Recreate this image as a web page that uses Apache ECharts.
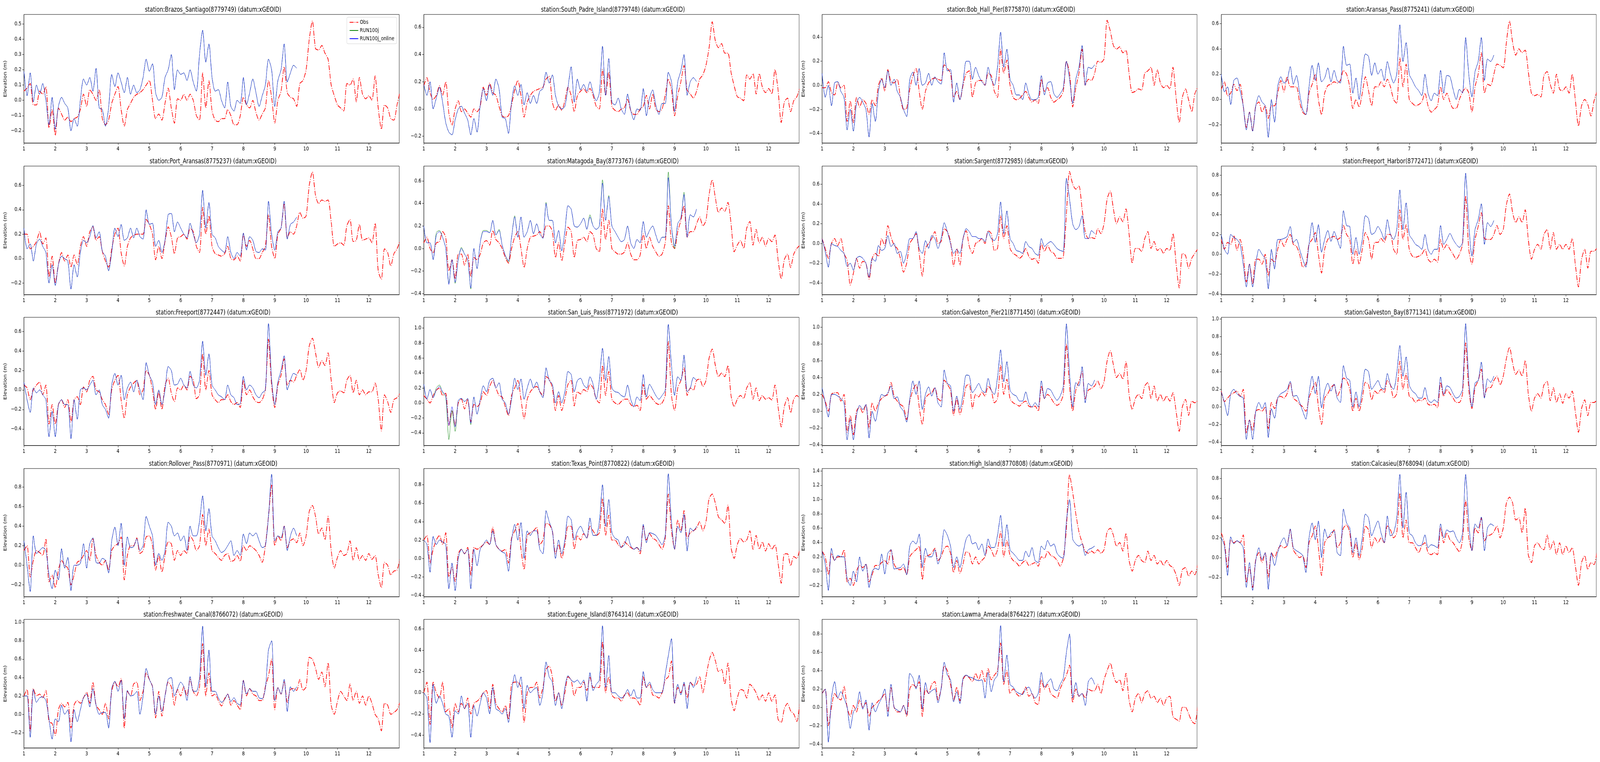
<!DOCTYPE html>
<html>
<head>
<meta charset="utf-8">
<title>Water elevation by station</title>
<script src="https://cdn.jsdelivr.net/npm/echarts@6.0.0/dist/echarts.min.js"></script>
<style>
html, body { margin: 0; padding: 0; background: #ffffff; overflow: hidden; }
#data-chart { width: 5150px; height: 1950px; transform-origin: 0 0; }
</style>
</head>
<body>
<div id="data-chart"></div>
<script>
// Stations (panel order)
var stations = [
	'Brazos_Santiago(8779749)', 'South_Padre_Island(8779748)', 'Bob_Hall_Pier(8775870)', 'Aransas_Pass(8775241)',
	'Port_Aransas(8775237)', 'Matagoda_Bay(8773767)', 'Sargent(8772985)', 'Freeport_Harbor(8772471)',
	'Freeport(8772447)', 'San_Luis_Pass(8771972)', 'Galveston_Pier21(8771450)', 'Galveston_Bay(8771341)',
	'Rollover_Pass(8770971)', 'Texas_Point(8770822)', 'High_Island(8770808)', 'Calcasieu(8768094)',
	'Freshwater_Canal(8766072)', 'Eugene_Island(8764314)', 'Lawma_Amerada(8764227)'
];
var seriesNames = ['Obs', 'RUN100j', 'RUN100j_online'];

// Obs: day 1.0 .. 13.0, every 0.1 day (one row per day)
var obs_brazos = [
	0.06,0.08,0.11,-0.03,-0.03,0.06,0.04,0.09,-0.18,-0.06,
	-0.23,-0.05,-0.09,-0.13,-0.11,-0.14,-0.12,-0.11,-0.06,0.04,
	-0.04,0.07,0.04,0.0,0.07,-0.12,-0.16,-0.13,-0.02,0.04,
	0.09,-0.06,-0.17,-0.06,-0.02,0.02,0.04,0.05,0.07,0.1,
	0.13,0.0,-0.12,-0.09,-0.13,-0.02,0.08,-0.05,-0.15,0.01,
	0.0,0.04,0.0,0.04,0.0,-0.1,-0.13,0.18,-0.05,0.13,
	-0.07,-0.13,-0.14,-0.12,-0.12,-0.06,-0.1,-0.16,-0.16,-0.1,
	0.02,-0.03,-0.05,0.0,-0.08,-0.13,-0.09,-0.05,0.13,0.02,
	-0.15,0.0,0.06,0.22,0.05,0.02,0.01,-0.04,0.11,0.13,
	0.2,0.4,0.52,0.34,0.33,0.36,0.31,0.27,0.1,0.03,
	-0.03,-0.05,-0.07,0.11,0.1,0.14,-0.01,0.15,0.04,0.01,
	0.03,0.0,0.16,-0.05,-0.19,-0.03,-0.05,-0.12,-0.13,-0.03,
	0.06
];
var obs_southPadre = [
	0.17,0.23,0.12,0.07,0.1,0.17,0.1,0.2,-0.03,-0.12,
	0.0,0.06,-0.02,0.0,-0.03,-0.06,0.0,-0.02,0.02,0.16,
	0.1,0.19,0.12,0.1,0.02,-0.05,-0.06,-0.05,0.03,0.14,
	0.21,0.1,-0.06,0.05,0.1,0.13,0.14,0.15,0.16,0.22,
	0.24,0.05,-0.01,0.03,-0.01,0.06,0.16,0.1,-0.02,0.1,
	0.13,0.15,0.12,0.15,0.1,0.02,0.0,0.29,0.1,0.27,
	0.02,-0.01,-0.02,0.0,0.01,0.07,-0.01,-0.04,-0.04,0.0,
	0.02,0.1,0.0,0.11,0.0,-0.02,0.0,0.1,0.22,0.14,
	-0.05,0.1,0.2,0.32,0.14,0.11,0.08,0.13,0.22,0.25,
	0.32,0.45,0.64,0.5,0.45,0.48,0.41,0.41,0.27,0.17,
	0.09,0.08,0.06,0.25,0.22,0.26,0.11,0.26,0.16,0.12,
	0.15,0.11,0.29,0.14,-0.1,0.05,0.08,-0.02,0.06,0.09,
	0.16
];
var obs_bobHall = [
	-0.02,-0.02,0.03,-0.06,-0.08,0.02,-0.02,0.0,-0.3,-0.13,
	-0.31,-0.1,-0.18,-0.12,-0.15,-0.24,-0.12,-0.17,0.0,0.06,
	-0.05,0.13,0.03,0.02,0.05,-0.1,-0.2,-0.19,-0.03,0.08,
	0.14,-0.05,-0.2,-0.05,0.02,0.05,0.06,0.05,0.04,0.17,
	0.14,0.1,-0.1,-0.05,-0.12,0.0,0.1,0.12,-0.1,0.02,
	0.04,0.04,0.0,0.1,0.08,-0.05,-0.1,0.3,0.1,0.21,
	0.0,-0.1,-0.12,-0.11,-0.08,-0.05,-0.1,-0.14,-0.12,-0.15,
	0.05,-0.05,-0.02,-0.1,-0.14,-0.12,-0.1,-0.05,0.2,0.1,
	-0.18,-0.02,0.1,0.3,0.0,0.05,0.04,0.1,0.2,0.19,
	0.22,0.54,0.45,0.33,0.3,0.32,0.27,0.29,0.1,-0.06,
	-0.05,-0.03,-0.04,0.1,0.12,0.15,0.0,0.13,0.02,-0.02,
	0.0,-0.03,0.15,-0.1,-0.31,-0.1,-0.03,-0.12,-0.22,-0.07,
	-0.01
];
var obs_aransasPass = [
	0.08,0.14,0.03,0.05,0.12,0.07,0.12,-0.05,-0.22,-0.1,
	-0.25,-0.05,-0.02,-0.1,-0.05,-0.15,-0.05,-0.05,0.05,0.15,
	0.06,0.18,0.1,0.1,0.1,-0.02,-0.1,-0.12,0.05,0.12,
	0.2,0.0,-0.12,0.05,0.11,0.12,0.14,0.13,0.15,0.23,
	0.2,0.1,-0.07,0.0,-0.06,0.05,0.18,0.07,-0.05,0.1,
	0.1,0.14,0.1,0.16,0.1,0.0,-0.03,0.33,0.1,0.28,
	0.0,-0.03,-0.05,-0.04,-0.02,0.05,-0.05,-0.1,-0.08,-0.05,
	0.1,0.0,0.05,-0.02,-0.07,-0.07,0.0,0.06,0.09,0.05,
	-0.1,0.1,0.2,0.37,0.05,0.12,0.11,0.2,0.28,0.27,
	0.25,0.45,0.62,0.45,0.35,0.4,0.37,0.39,0.22,0.05,
	0.03,0.04,0.02,0.19,0.22,0.12,0.05,0.2,0.08,0.07,
	0.1,0.05,0.2,0.0,-0.21,-0.05,0.0,-0.04,-0.13,-0.01,
	0.07
];
var obs_portAransas = [
	0.2,0.2,0.08,0.1,0.14,0.22,0.12,0.17,-0.15,0.02,
	-0.2,-0.05,0.05,-0.02,0.03,-0.07,0.03,-0.05,0.1,0.18,
	0.1,0.22,0.26,0.15,0.18,0.06,-0.02,-0.07,0.08,0.2,
	0.25,0.05,-0.06,0.1,0.17,0.19,0.2,0.2,0.2,0.32,
	0.28,0.2,-0.01,0.1,0.0,0.14,0.26,0.18,0.04,0.17,
	0.18,0.2,0.16,0.25,0.22,0.1,0.05,0.42,0.2,0.35,
	0.1,0.04,0.03,0.02,0.04,0.1,0.0,-0.01,0.02,-0.02,
	0.2,0.1,0.15,0.08,0.0,0.0,0.05,0.1,0.36,0.1,
	0.0,0.2,0.25,0.45,0.17,0.22,0.2,0.27,0.38,0.33,
	0.35,0.6,0.71,0.52,0.45,0.48,0.47,0.48,0.3,0.1,
	0.12,0.13,0.11,0.27,0.32,0.14,0.15,0.28,0.15,0.16,
	0.17,0.13,0.29,-0.1,-0.17,0.08,0.05,-0.06,0.04,0.08,
	0.15
];
var obs_matagorda = [
	0.05,0.1,0.0,-0.04,0.05,0.06,0.15,0.1,-0.2,-0.1,
	-0.27,-0.05,-0.05,-0.15,-0.05,-0.25,-0.08,-0.1,-0.05,0.05,
	0.07,0.03,0.16,0.08,0.05,0.0,-0.08,-0.13,0.0,0.1,
	0.15,0.0,-0.17,0.0,0.1,0.11,0.12,0.15,0.1,0.2,
	0.2,0.15,-0.08,0.05,-0.11,0.05,0.19,0.15,-0.08,0.07,
	0.08,0.1,0.06,0.15,0.12,0.0,-0.03,0.35,0.08,0.25,
	0.0,-0.03,-0.05,-0.05,-0.03,0.05,-0.05,-0.1,-0.1,-0.06,
	0.13,0.0,0.1,0.02,-0.03,-0.07,-0.05,0.05,0.38,0.05,
	0.0,0.15,0.25,0.38,0.1,0.15,0.15,0.22,0.28,0.2,
	0.25,0.48,0.61,0.45,0.32,0.36,0.33,0.41,0.22,-0.03,
	0.03,0.07,0.0,0.18,0.24,0.03,0.17,0.05,0.1,0.02,
	0.09,0.06,0.12,-0.1,-0.27,-0.1,-0.05,-0.17,-0.05,0.0,
	0.03
];
var obs_sargent = [
	0.05,-0.05,-0.15,0.0,0.05,-0.02,0.05,-0.1,-0.17,-0.42,
	-0.3,-0.15,-0.25,-0.18,-0.2,-0.36,-0.15,-0.1,-0.13,0.05,
	-0.02,0.18,0.07,-0.02,-0.05,-0.15,-0.29,-0.2,0.0,0.05,
	0.1,-0.1,-0.33,-0.05,0.0,0.05,0.12,0.0,0.02,0.15,
	0.12,0.02,-0.23,-0.05,-0.22,0.05,0.13,-0.03,-0.1,0.0,
	0.02,0.05,0.0,0.13,0.1,-0.07,-0.05,0.28,0.05,0.18,
	-0.05,-0.1,-0.12,-0.15,-0.12,-0.05,-0.13,-0.16,-0.15,-0.2,
	0.0,-0.08,-0.02,-0.08,-0.1,-0.15,-0.15,-0.14,0.3,0.73,
	0.6,0.55,0.58,0.35,0.12,0.05,0.06,0.05,0.15,0.1,
	0.2,0.45,0.53,0.35,0.2,0.27,0.22,0.35,0.1,-0.2,
	-0.05,-0.05,-0.08,0.05,0.12,-0.05,0.02,-0.07,-0.05,-0.1,
	-0.05,-0.07,0.1,-0.2,-0.45,-0.1,-0.12,-0.25,-0.15,-0.1,
	-0.05
];
var obs_freeportHarbor = [
	0.15,0.05,0.12,0.1,0.19,0.04,0.15,0.0,-0.28,-0.1,
	-0.3,-0.05,-0.05,-0.1,0.0,-0.22,-0.05,-0.08,0.05,0.15,
	0.08,0.15,0.2,0.1,0.08,0.0,-0.13,-0.1,0.1,0.15,
	0.22,0.0,-0.19,0.05,0.15,0.17,0.18,0.15,0.17,0.29,
	0.2,0.15,-0.1,0.05,-0.1,0.05,0.22,0.15,-0.05,0.12,
	0.12,0.16,0.12,0.2,0.2,0.05,0.0,0.45,0.15,0.3,
	0.05,-0.02,-0.03,-0.02,0.0,0.05,-0.05,-0.08,-0.05,-0.08,
	0.15,0.05,0.1,0.05,0.0,-0.05,0.0,0.1,0.59,0.05,
	-0.1,0.15,0.28,0.42,0.16,0.15,0.15,0.2,0.29,0.2,
	0.25,0.5,0.61,0.42,0.32,0.38,0.32,0.45,0.15,-0.05,
	0.05,0.1,0.05,0.2,0.25,0.05,0.22,0.05,0.1,0.05,
	0.1,0.05,0.16,-0.1,-0.33,-0.05,0.05,-0.14,0.03,0.03,
	0.07
];
var obs_freeport = [
	0.05,0.02,-0.1,0.0,0.05,0.08,-0.05,0.05,-0.35,-0.15,
	-0.35,-0.15,-0.1,-0.18,-0.1,-0.33,-0.1,-0.07,-0.15,0.03,
	-0.02,0.1,0.14,0.0,-0.02,-0.1,-0.15,-0.25,0.0,0.1,
	0.15,-0.1,-0.29,-0.05,0.03,0.07,0.1,-0.05,0.0,0.2,
	0.15,0.0,-0.2,-0.02,-0.2,0.05,0.12,-0.03,-0.12,0.02,
	0.0,0.05,0.0,0.14,0.1,-0.09,-0.05,0.37,0.0,0.2,
	-0.05,-0.1,-0.13,-0.1,-0.1,-0.05,-0.12,-0.15,-0.13,-0.18,
	0.1,-0.05,0.0,-0.07,-0.12,-0.13,-0.1,0.0,0.52,0.05,
	-0.18,0.05,0.15,0.32,0.05,0.1,0.08,0.15,0.21,0.1,
	0.2,0.45,0.53,0.38,0.23,0.3,0.25,0.38,0.1,-0.13,
	-0.03,-0.01,-0.03,0.1,0.15,-0.03,0.1,-0.05,0.0,-0.05,
	-0.02,-0.02,0.07,-0.1,-0.42,-0.05,-0.12,-0.23,-0.1,-0.08,
	-0.03
];
var obs_sanLuis = [
	0.1,0.05,0.0,0.1,0.17,0.2,0.1,0.13,-0.3,-0.1,
	-0.3,0.0,0.05,-0.08,0.05,-0.25,-0.02,-0.05,0.0,0.15,
	0.1,0.22,0.3,0.2,0.1,0.08,-0.05,-0.17,0.1,0.2,
	0.3,0.05,-0.21,0.05,0.15,0.2,0.22,0.15,0.1,0.35,
	0.32,0.2,-0.1,0.1,-0.1,0.05,0.25,0.3,-0.04,0.15,
	0.12,0.18,0.15,0.25,0.2,0.05,0.0,0.5,0.1,0.42,
	0.05,0.0,-0.02,0.02,0.05,0.05,-0.02,-0.05,-0.03,-0.1,
	0.25,0.05,0.1,0.05,0.0,-0.02,0.0,0.1,0.82,0.1,
	-0.1,0.2,0.3,0.47,0.1,0.2,0.17,0.3,0.32,0.22,
	0.3,0.6,0.72,0.5,0.35,0.4,0.35,0.5,0.1,-0.05,
	0.05,0.1,0.06,0.2,0.27,0.05,0.2,0.03,0.1,0.05,
	0.07,0.04,0.24,-0.05,-0.32,-0.05,0.07,-0.13,0.05,0.1,
	0.05
];
var obs_pier21 = [
	0.2,0.12,0.0,0.2,0.22,0.22,0.12,0.2,-0.25,-0.05,
	-0.28,0.0,0.05,-0.02,0.08,-0.2,0.1,0.0,0.1,0.15,
	0.18,0.2,0.34,0.18,0.12,0.08,0.05,-0.1,0.12,0.25,
	0.32,0.05,-0.16,0.15,0.2,0.22,0.28,0.15,0.12,0.37,
	0.32,0.25,-0.05,0.15,-0.04,0.1,0.3,0.32,0.03,0.2,
	0.17,0.23,0.18,0.3,0.25,0.1,0.15,0.55,0.2,0.38,
	0.15,0.1,0.08,0.06,0.1,0.12,0.06,0.05,0.06,0.0,
	0.3,0.15,0.2,0.16,0.1,0.07,0.1,0.2,0.8,0.3,
	0.0,0.25,0.35,0.47,0.15,0.25,0.27,0.3,0.36,0.27,
	0.35,0.6,0.72,0.55,0.4,0.45,0.38,0.59,0.2,0.02,
	0.15,0.2,0.15,0.3,0.34,0.15,0.3,0.12,0.2,0.12,
	0.18,0.12,0.22,0.0,-0.24,0.05,0.14,-0.05,0.12,0.1,
	0.13
];
var obs_galvestonBay = [
	0.18,0.06,0.1,0.14,0.16,0.18,0.12,0.2,-0.3,-0.15,
	-0.27,-0.05,-0.03,-0.05,0.0,-0.25,0.05,-0.02,0.1,0.12,
	0.1,0.15,0.28,0.1,0.07,0.03,0.0,-0.05,0.1,0.2,
	0.28,0.0,-0.2,0.1,0.15,0.22,0.25,0.12,0.2,0.33,
	0.3,0.2,-0.05,0.1,-0.05,0.1,0.28,0.25,0.08,0.18,
	0.15,0.2,0.16,0.3,0.25,0.1,0.15,0.52,0.2,0.38,
	0.12,0.1,0.05,0.08,0.07,0.1,0.03,0.02,0.03,-0.01,
	0.28,0.12,0.2,0.15,0.1,0.05,0.05,0.15,0.73,0.2,
	-0.02,0.22,0.3,0.43,0.12,0.22,0.22,0.3,0.35,0.25,
	0.35,0.55,0.68,0.5,0.37,0.42,0.35,0.53,0.15,-0.05,
	0.1,0.15,0.1,0.25,0.29,0.07,0.22,0.05,0.15,0.04,
	0.15,0.1,0.18,-0.05,-0.29,-0.02,0.08,-0.1,0.05,0.05,
	0.08
];
var obs_rollover = [
	0.15,0.2,-0.12,0.05,0.15,0.13,0.1,0.27,-0.17,-0.1,
	-0.23,-0.05,0.05,0.0,-0.03,-0.2,-0.1,0.03,0.05,0.1,
	0.15,0.05,0.27,0.1,0.03,0.0,0.05,-0.05,0.15,0.2,
	0.22,0.29,-0.15,0.1,0.2,0.2,0.28,0.12,0.15,0.29,
	0.3,0.2,-0.05,0.1,-0.07,0.1,0.24,0.22,0.05,0.15,
	0.1,0.15,0.12,0.3,0.25,0.15,0.2,0.52,0.2,0.37,
	0.15,0.12,0.08,0.05,0.1,0.12,0.04,0.05,0.1,0.04,
	0.2,0.15,0.2,0.18,0.15,0.1,0.03,0.2,0.5,0.82,
	0.2,0.3,0.25,0.4,0.18,0.25,0.27,0.23,0.33,0.2,
	0.3,0.55,0.61,0.5,0.32,0.38,0.26,0.5,0.15,-0.03,
	0.08,0.15,0.1,0.12,0.25,0.05,0.18,0.05,0.1,0.05,
	0.12,0.06,0.1,-0.1,-0.23,0.03,0.0,-0.1,-0.06,-0.05,
	0.08
];
var obs_texasPoint = [
	0.2,0.25,-0.05,0.1,0.2,0.25,0.15,0.28,-0.2,-0.1,
	-0.25,0.05,0.1,0.05,0.12,-0.18,0.12,0.1,0.12,0.15,
	0.18,0.15,0.34,0.15,0.1,0.08,0.1,-0.05,0.22,0.3,
	0.38,0.1,-0.12,0.25,0.28,0.3,0.34,0.15,0.2,0.38,
	0.37,0.3,0.05,0.15,0.0,0.15,0.35,0.35,0.1,0.25,
	0.2,0.27,0.22,0.35,0.3,0.25,0.28,0.65,0.25,0.47,
	0.2,0.2,0.15,0.12,0.18,0.15,0.12,0.1,0.12,0.05,
	0.35,0.2,0.27,0.22,0.2,0.15,0.1,0.22,0.7,0.3,
	0.1,0.42,0.3,0.52,0.22,0.28,0.3,0.33,0.4,0.3,
	0.4,0.65,0.7,0.6,0.45,0.42,0.38,0.58,0.12,0.0,
	0.15,0.22,0.18,0.2,0.3,0.1,0.25,0.1,0.18,0.08,
	0.16,0.1,0.15,-0.05,-0.27,0.05,0.05,-0.08,0.02,0.0,
	0.12
];
var obs_highIsland = [
	0.28,0.2,-0.05,0.25,0.15,0.2,0.2,0.3,-0.15,-0.1,
	-0.2,0.0,0.08,0.05,0.1,-0.15,-0.05,0.08,0.08,0.12,
	0.15,0.1,0.3,0.1,0.03,0.02,0.05,-0.05,0.2,0.26,
	0.3,0.35,-0.12,0.2,0.22,0.25,0.32,0.15,0.2,0.32,
	0.35,0.25,-0.02,0.15,-0.03,0.1,0.27,0.25,0.1,0.2,
	0.1,0.15,0.2,0.35,0.3,0.2,0.3,0.55,0.2,0.43,
	0.22,0.15,0.12,0.07,0.12,0.15,0.08,0.1,0.12,0.07,
	0.2,0.18,0.28,0.22,0.2,0.15,0.07,0.18,0.6,1.35,
	1.1,0.8,0.55,0.4,0.28,0.25,0.28,0.25,0.3,0.25,
	0.3,0.55,0.6,0.5,0.35,0.4,0.28,0.53,0.15,0.0,
	0.15,0.22,0.15,0.12,0.28,0.15,0.22,0.1,0.15,0.08,
	0.15,0.08,0.05,-0.05,-0.2,0.02,0.05,-0.07,0.0,-0.05,
	0.12
];
var obs_calcasieu = [
	0.25,0.15,-0.1,0.18,0.15,0.17,0.15,0.23,-0.25,-0.1,
	-0.3,-0.02,0.05,-0.05,0.05,-0.2,0.05,0.0,0.08,0.12,
	0.1,0.12,0.28,0.08,0.03,0.0,0.02,-0.1,0.15,0.22,
	0.32,0.1,-0.18,0.15,0.2,0.22,0.28,0.1,0.15,0.3,
	0.33,0.25,0.0,0.15,-0.02,0.1,0.32,0.28,0.1,0.2,
	0.15,0.2,0.15,0.32,0.28,0.2,0.25,0.65,0.2,0.38,
	0.15,0.15,0.1,0.05,0.12,0.15,0.05,0.03,0.05,0.03,
	0.3,0.15,0.25,0.18,0.15,0.1,0.06,0.18,0.58,0.2,
	0.07,0.3,0.25,0.4,0.17,0.22,0.23,0.26,0.32,0.2,
	0.3,0.55,0.61,0.55,0.38,0.4,0.25,0.5,0.03,-0.05,
	0.12,0.15,0.1,0.08,0.23,0.08,0.17,0.03,0.15,0.03,
	0.12,0.05,0.1,-0.08,-0.28,-0.05,0.02,-0.12,-0.05,-0.07,
	0.08
];
var obs_freshwater = [
	0.2,0.27,-0.18,0.28,0.2,0.22,0.18,0.26,-0.08,-0.1,
	-0.23,0.05,0.12,0.08,0.13,-0.15,0.1,0.15,0.12,0.18,
	0.24,0.12,0.35,0.1,0.05,0.0,0.12,-0.05,0.25,0.35,
	0.3,0.39,-0.15,0.25,0.2,0.33,0.35,0.15,0.25,0.45,
	0.38,0.3,-0.04,0.25,-0.02,0.2,0.35,0.3,0.1,0.27,
	0.2,0.3,0.2,0.38,0.25,0.2,0.3,0.77,0.2,0.45,
	0.2,0.22,0.15,0.09,0.17,0.22,0.1,0.15,0.1,0.05,
	0.37,0.2,0.28,0.22,0.2,0.15,0.15,0.3,0.42,0.6,
	0.05,0.29,0.22,0.36,0.13,0.27,0.28,0.26,0.38,0.26,
	0.3,0.62,0.6,0.5,0.38,0.46,0.3,0.56,0.1,0.0,
	0.14,0.25,0.2,0.15,0.33,0.15,0.25,0.12,0.2,0.1,
	0.2,0.12,0.0,-0.05,-0.18,0.12,0.1,0.0,0.02,0.05,
	0.14
];
var obs_eugene = [
	0.0,0.1,-0.3,0.1,0.0,-0.05,0.1,-0.18,-0.15,-0.33,
	-0.1,-0.18,-0.1,-0.15,-0.05,-0.2,-0.1,-0.08,-0.05,0.0,
	0.02,-0.15,0.08,-0.1,-0.15,-0.18,-0.12,-0.25,0.08,0.1,
	0.1,0.05,-0.28,0.0,0.05,0.05,0.1,-0.05,0.05,0.22,
	0.25,0.15,-0.08,0.0,-0.12,0.0,0.15,0.12,-0.03,0.05,
	0.05,0.1,0.02,0.15,0.05,0.05,0.05,0.48,0.0,0.15,
	-0.02,-0.05,-0.05,-0.08,-0.02,0.0,-0.05,-0.05,-0.07,-0.12,
	0.15,0.05,0.08,-0.02,-0.03,-0.05,0.0,0.12,0.15,0.3,
	-0.1,0.05,0.0,0.08,-0.05,0.1,0.07,0.08,0.15,0.0,
	0.15,0.3,0.38,0.3,0.2,0.22,0.08,0.28,-0.05,-0.17,
	-0.05,0.03,0.02,-0.05,0.08,0.05,0.0,-0.07,-0.02,-0.08,
	0.0,-0.08,-0.02,-0.25,-0.28,-0.15,-0.1,-0.17,-0.2,-0.27,
	-0.07
];
var obs_lawma = [
	0.15,0.2,-0.2,0.0,0.15,0.1,0.08,0.23,0.0,-0.1,
	0.02,-0.05,0.08,0.0,0.05,-0.1,0.0,0.03,0.07,0.1,
	0.15,-0.05,0.22,0.0,-0.05,-0.05,0.02,-0.1,0.2,0.25,
	0.22,0.28,-0.1,0.2,0.15,0.25,0.28,0.08,0.2,0.45,
	0.4,0.25,0.08,0.22,0.07,0.3,0.35,0.32,0.28,0.37,
	0.3,0.4,0.28,0.42,0.3,0.35,0.4,0.7,0.25,0.4,
	0.15,0.2,0.15,0.12,0.15,0.22,0.12,0.15,0.05,0.03,
	0.3,0.2,0.25,0.15,0.12,0.1,0.2,0.28,0.35,0.46,
	0.05,0.2,0.12,0.15,0.1,0.2,0.18,0.18,0.25,0.15,
	0.3,0.4,0.48,0.35,0.27,0.3,0.18,0.37,0.08,-0.05,
	0.1,0.15,0.05,0.15,0.18,0.1,0.12,0.05,0.1,0.02,
	0.1,0.12,-0.1,-0.13,-0.15,0.0,0.0,-0.07,-0.15,-0.18,
	0.05
];

// RUN100j_online: day 1.0 .. 9.7, every 0.1 day
var online_brazos = [
	0.19,0.03,0.18,-0.01,0.1,0.04,0.11,0.0,-0.16,0.02,
	-0.19,-0.04,0.02,-0.02,-0.05,-0.2,-0.12,-0.17,0.0,0.14,
	0.1,0.15,0.06,0.21,-0.05,-0.06,-0.17,-0.05,0.17,0.09,
	0.18,0.12,0.05,0.15,0.04,0.1,0.05,0.07,0.15,0.27,
	0.19,0.24,0.05,0.0,0.02,0.15,0.2,0.3,0.07,0.2,
	0.17,0.18,0.13,0.2,0.12,0.06,0.3,0.46,0.25,0.37,
	0.15,0.06,0.07,0.0,-0.05,0.12,-0.04,-0.07,0.0,-0.02,
	0.15,-0.03,0.05,0.14,0.05,-0.04,0.03,0.1,0.27,0.2,
	-0.04,0.13,0.2,0.37,0.12,0.18,0.23,0.21
];
var online_southPadre = [
	0.18,0.1,0.2,0.0,0.08,0.16,0.05,-0.1,-0.17,-0.19,
	-0.08,0.0,0.02,-0.03,-0.08,-0.19,-0.07,-0.17,0.03,0.15,
	0.06,0.18,0.1,0.22,0.15,-0.06,-0.07,-0.18,0.05,0.17,
	0.1,0.18,0.03,0.12,0.04,0.1,0.04,0.13,0.15,0.27,
	0.19,0.25,0.1,0.02,0.0,0.02,0.16,0.31,0.05,0.22,
	0.14,0.18,0.13,0.2,0.12,0.06,0.12,0.46,0.1,0.37,
	0.05,0.03,0.08,0.0,-0.04,0.11,-0.01,-0.08,0.0,-0.01,
	0.15,-0.05,0.08,0.14,0.03,-0.04,0.04,0.04,0.27,0.2,
	-0.02,0.2,0.28,0.4,0.1,0.2,0.23,0.2
];
var online_bobHall = [
	0.1,-0.1,0.0,-0.17,0.02,0.03,-0.05,-0.1,-0.37,-0.2,
	-0.38,-0.15,-0.1,-0.14,-0.2,-0.43,-0.15,-0.3,-0.05,0.05,
	-0.02,0.12,0.0,0.05,-0.05,-0.1,-0.2,-0.26,0.05,0.11,
	0.0,0.14,0.0,0.02,0.1,0.0,0.07,0.03,0.01,0.27,
	0.12,0.13,-0.14,0.02,-0.12,0.02,0.2,0.2,0.05,0.15,
	0.08,0.03,0.0,0.15,0.05,0.0,0.15,0.44,0.15,0.3,
	0.05,0.0,-0.08,-0.08,-0.12,0.02,-0.07,-0.12,-0.12,-0.1,
	0.08,-0.08,0.02,0.03,-0.07,-0.1,-0.07,-0.02,0.2,0.05,
	-0.15,0.05,0.15,0.33,0.0,0.15,0.14,0.17
];
var online_aransasPass = [
	0.2,0.06,0.1,-0.04,0.15,0.17,0.07,-0.05,-0.24,-0.1,
	-0.25,-0.05,0.03,-0.02,-0.05,-0.3,0.0,-0.18,0.1,0.18,
	0.13,0.15,0.26,0.12,0.19,0.05,-0.08,-0.12,0.1,0.27,
	0.15,0.29,0.14,0.17,0.25,0.14,0.23,0.15,0.13,0.42,
	0.27,0.28,0.05,0.17,0.0,0.2,0.36,0.34,0.19,0.29,
	0.2,0.24,0.15,0.3,0.2,0.13,0.2,0.59,0.3,0.45,
	0.2,0.15,0.1,0.07,0.03,0.2,0.05,-0.01,0.05,0.03,
	0.23,0.05,0.19,0.18,0.08,0.0,0.08,0.05,0.49,0.2,
	0.02,0.22,0.3,0.49,0.15,0.32,0.3,0.35
];
var online_portAransas = [
	0.25,0.08,0.12,-0.02,0.12,0.16,0.1,0.05,-0.2,-0.05,
	-0.22,-0.05,0.02,0.0,-0.02,-0.25,-0.05,-0.15,0.05,0.15,
	0.13,0.18,0.27,0.17,0.22,0.06,0.02,-0.1,0.05,0.25,
	0.18,0.28,0.15,0.17,0.25,0.17,0.25,0.18,0.16,0.4,
	0.28,0.29,0.1,0.15,0.05,0.15,0.36,0.37,0.22,0.3,
	0.25,0.2,0.17,0.29,0.2,0.13,0.2,0.56,0.25,0.46,
	0.2,0.17,0.1,0.07,0.05,0.18,0.05,0.0,0.05,0.02,
	0.21,0.07,0.18,0.15,0.06,0.05,0.08,0.07,0.47,0.2,
	0.07,0.22,0.25,0.47,0.16,0.28,0.3,0.34
];
var online_matagorda = [
	0.2,0.05,0.05,-0.1,0.12,0.15,0.1,0.0,-0.32,-0.1,
	-0.3,-0.1,0.0,-0.05,-0.1,-0.35,0.0,-0.18,0.05,0.15,
	0.15,0.14,0.25,0.12,0.16,0.03,-0.06,-0.11,0.1,0.28,
	0.1,0.28,0.1,0.15,0.25,0.13,0.22,0.13,0.09,0.4,
	0.25,0.25,0.05,0.16,-0.02,0.15,0.38,0.35,0.2,0.19,
	0.22,0.27,0.17,0.28,0.2,0.17,0.2,0.58,0.25,0.46,
	0.2,0.15,0.1,0.06,0.08,0.2,0.05,0.0,0.08,0.05,
	0.24,0.1,0.16,0.2,0.12,0.05,0.1,0.1,0.63,0.2,
	0.02,0.22,0.27,0.48,0.1,0.3,0.28,0.35
];
var online_sargent = [
	0.05,-0.08,-0.24,0.0,-0.02,-0.03,-0.07,-0.1,-0.23,-0.2,
	-0.27,-0.15,-0.13,-0.15,-0.2,-0.34,-0.15,-0.18,-0.02,-0.07,
	-0.05,0.08,-0.03,0.0,-0.1,-0.08,-0.2,-0.1,0.05,0.05,
	0.12,-0.05,-0.1,0.03,-0.05,0.08,0.05,-0.05,0.05,0.21,
	0.12,0.0,-0.1,-0.06,-0.1,0.05,0.15,0.12,0.07,0.07,
	0.05,0.05,0.02,0.12,0.05,0.03,0.1,0.42,0.1,0.33,
	0.05,0.0,-0.07,-0.08,-0.1,0.02,-0.03,-0.05,-0.1,-0.12,
	0.05,-0.03,0.0,0.02,-0.01,-0.05,-0.07,-0.08,0.66,0.45,
	0.2,0.14,0.17,0.28,0.05,0.05,0.13,0.1
];
var online_freeportHarbor = [
	0.2,0.05,0.0,0.2,0.17,0.15,0.1,-0.1,-0.33,-0.1,
	-0.33,-0.1,0.05,0.0,-0.05,-0.35,0.05,-0.15,0.15,0.15,
	0.16,0.18,0.28,0.12,0.15,0.05,-0.05,-0.13,0.1,0.32,
	0.12,0.3,0.02,0.15,0.24,0.13,0.23,0.15,0.06,0.44,
	0.29,0.28,0.0,0.17,0.0,0.15,0.39,0.36,0.2,0.22,
	0.28,0.23,0.15,0.35,0.2,0.15,0.25,0.65,0.25,0.52,
	0.2,0.15,0.1,0.08,0.05,0.2,0.05,0.0,0.05,0.05,
	0.29,0.1,0.15,0.21,0.15,0.1,0.07,0.12,0.82,0.3,
	-0.02,0.25,0.35,0.51,0.1,0.32,0.28,0.34
];
var online_freeport = [
	0.08,-0.1,-0.23,0.02,-0.03,0.0,-0.05,-0.1,-0.48,-0.22,
	-0.48,-0.15,-0.1,-0.15,-0.15,-0.5,-0.1,-0.3,0.0,0.02,
	0.0,0.05,0.1,-0.05,0.0,-0.15,-0.2,-0.29,0.05,0.17,
	0.05,0.15,-0.1,0.02,0.08,-0.02,0.1,0.0,-0.1,0.28,
	0.15,0.08,-0.15,0.0,-0.15,0.0,0.24,0.2,0.05,0.06,
	0.12,0.05,0.02,0.19,0.05,0.02,0.1,0.5,0.15,0.37,
	0.05,0.0,-0.05,-0.07,-0.1,0.05,-0.05,-0.08,-0.15,-0.14,
	0.14,0.0,0.05,0.02,-0.05,-0.08,-0.03,0.0,0.68,0.1,
	-0.15,0.08,0.2,0.35,0.0,0.1,0.17,0.15
];
var online_sanLuis = [
	0.25,0.05,0.18,0.07,0.17,0.22,0.15,0.1,-0.3,-0.05,
	-0.32,0.03,0.06,0.02,0.06,-0.27,0.08,-0.15,0.05,0.23,
	0.15,0.3,0.33,0.2,0.27,0.05,0.0,-0.15,0.05,0.33,
	0.18,0.32,0.05,0.2,0.32,0.2,0.28,0.15,0.07,0.47,
	0.3,0.25,0.0,0.15,0.0,0.15,0.42,0.38,0.15,0.3,
	0.33,0.24,0.2,0.35,0.25,0.05,0.3,0.73,0.3,0.62,
	0.2,0.15,0.14,0.1,0.08,0.24,0.05,-0.05,0.08,0.03,
	0.38,0.08,0.25,0.18,0.1,0.05,0.1,0.17,1.05,0.5,
	0.1,0.35,0.3,0.64,0.15,0.2,0.34,0.3
];
var online_pier21 = [
	0.28,0.1,-0.07,0.2,0.2,0.18,0.15,0.1,-0.34,-0.1,
	-0.34,-0.05,0.07,0.02,0.08,-0.32,0.0,-0.12,0.05,0.2,
	0.18,0.22,0.3,0.15,0.17,0.05,0.0,-0.13,0.15,0.36,
	0.2,0.36,0.02,0.2,0.29,0.18,0.28,0.1,0.05,0.49,
	0.33,0.3,0.0,0.18,0.02,0.2,0.43,0.42,0.22,0.27,
	0.33,0.25,0.22,0.39,0.25,0.2,0.4,0.73,0.35,0.59,
	0.25,0.2,0.18,0.12,0.12,0.23,0.1,0.05,0.1,0.05,
	0.36,0.15,0.27,0.25,0.18,0.13,0.18,0.3,1.04,0.45,
	0.05,0.34,0.3,0.53,0.1,0.33,0.3,0.37
];
var online_galvestonBay = [
	0.17,0.05,-0.1,0.15,0.2,0.15,0.12,0.1,-0.37,-0.15,
	-0.37,-0.05,0.05,-0.02,0.05,-0.35,-0.02,-0.13,0.1,0.15,
	0.17,0.2,0.29,0.12,0.13,0.05,-0.05,-0.14,0.15,0.35,
	0.15,0.35,-0.01,0.18,0.27,0.18,0.26,0.1,0.05,0.47,
	0.33,0.3,0.0,0.17,0.0,0.2,0.43,0.4,0.2,0.25,
	0.3,0.22,0.2,0.38,0.25,0.2,0.38,0.7,0.35,0.57,
	0.25,0.18,0.15,0.1,0.1,0.22,0.08,0.05,0.08,0.05,
	0.34,0.14,0.24,0.22,0.15,0.1,0.12,0.2,0.95,0.3,
	0.0,0.27,0.3,0.51,0.1,0.32,0.28,0.35
];
var online_rollover = [
	0.25,0.0,-0.27,0.3,0.12,0.15,0.18,0.15,-0.1,-0.24,
	-0.05,-0.15,0.17,-0.03,0.08,-0.26,0.0,0.0,0.02,0.22,
	-0.03,0.22,0.28,0.03,0.02,0.07,0.05,-0.08,0.25,0.39,
	0.2,0.43,0.0,0.29,0.18,0.19,0.27,0.15,0.2,0.5,
	0.4,0.3,0.0,0.12,0.05,0.15,0.44,0.4,0.3,0.33,
	0.25,0.3,0.15,0.4,0.3,0.3,0.45,0.71,0.35,0.58,
	0.3,0.25,0.18,0.13,0.15,0.2,0.25,0.1,0.15,0.1,
	0.32,0.22,0.33,0.3,0.33,0.25,0.18,0.2,0.5,0.93,
	0.25,0.3,0.28,0.4,0.15,0.3,0.38,0.3
];
var online_texasPoint = [
	0.2,0.15,-0.15,0.24,0.15,0.2,0.18,0.15,-0.33,-0.05,
	-0.35,0.0,0.1,0.05,0.1,-0.33,0.1,-0.08,0.1,0.15,
	0.2,0.15,0.3,0.15,0.1,0.07,0.05,-0.14,0.2,0.37,
	0.2,0.39,0.0,0.3,0.25,0.3,0.3,0.1,0.05,0.52,
	0.4,0.3,0.0,0.2,0.05,0.2,0.46,0.42,0.2,0.3,
	0.35,0.28,0.22,0.44,0.25,0.25,0.4,0.8,0.35,0.64,
	0.28,0.22,0.2,0.12,0.15,0.24,0.14,0.1,0.12,0.08,
	0.37,0.17,0.28,0.27,0.25,0.2,0.15,0.25,0.92,0.4,
	0.1,0.35,0.28,0.48,0.08,0.33,0.3,0.35
];
var online_highIsland = [
	0.28,0.1,-0.27,0.32,0.15,0.22,0.2,0.2,-0.1,-0.2,
	0.0,-0.15,0.2,0.0,0.1,-0.23,0.0,0.04,0.02,0.24,
	-0.04,0.25,0.3,0.03,0.04,0.05,0.1,-0.05,0.35,0.42,
	0.38,0.52,0.05,0.32,0.2,0.2,0.3,0.1,0.25,0.58,
	0.5,0.35,0.05,0.2,0.05,0.25,0.45,0.51,0.38,0.4,
	0.3,0.38,0.22,0.45,0.33,0.33,0.5,0.78,0.35,0.65,
	0.3,0.25,0.2,0.15,0.15,0.28,0.2,0.33,0.15,0.12,
	0.35,0.3,0.43,0.35,0.38,0.25,0.2,0.18,0.7,1.0,
	0.45,0.38,0.35,0.38,0.22,0.3,0.32,0.35
];
var online_calcasieu = [
	0.2,0.12,-0.18,0.21,0.14,0.17,0.15,0.1,-0.3,-0.05,
	-0.33,-0.03,0.1,-0.02,0.05,-0.32,0.05,-0.08,0.05,0.15,
	0.2,0.12,0.29,0.1,0.07,0.05,0.02,-0.15,0.2,0.35,
	0.18,0.37,0.0,0.29,0.2,0.25,0.27,0.05,0.02,0.49,
	0.35,0.3,0.05,0.2,0.02,0.2,0.44,0.4,0.22,0.3,
	0.37,0.25,0.15,0.42,0.22,0.25,0.4,0.84,0.3,0.66,
	0.25,0.22,0.15,0.12,0.13,0.23,0.1,0.13,0.12,0.1,
	0.34,0.2,0.28,0.26,0.27,0.2,0.15,0.25,0.84,0.35,
	0.07,0.34,0.3,0.41,0.07,0.3,0.34,0.32
];
var online_freshwater = [
	0.2,0.2,-0.25,0.27,0.13,0.18,0.19,0.15,-0.05,-0.27,
	-0.05,-0.08,0.1,0.0,0.05,-0.3,0.05,-0.08,0.05,0.18,
	0.22,0.08,0.28,0.1,0.0,0.02,0.02,-0.15,0.28,0.36,
	0.25,0.37,-0.05,0.26,0.2,0.21,0.25,0.0,0.2,0.5,
	0.38,0.3,0.0,0.2,0.03,0.2,0.38,0.4,0.2,0.28,
	0.35,0.3,0.15,0.41,0.25,0.25,0.4,0.96,0.3,0.7,
	0.25,0.25,0.18,0.13,0.16,0.22,0.14,0.18,0.12,0.1,
	0.37,0.22,0.28,0.25,0.25,0.18,0.17,0.28,0.7,0.8,
	0.15,0.29,0.22,0.38,0.03,0.3,0.25,0.3
];
var online_eugene = [
	0.0,-0.05,-0.47,0.08,-0.1,-0.03,-0.1,-0.2,-0.22,-0.42,
	-0.17,-0.2,-0.03,-0.15,-0.1,-0.42,-0.12,-0.22,-0.1,0.0,
	-0.05,-0.2,0.05,-0.15,-0.17,-0.2,-0.15,-0.28,0.0,0.17,
	0.05,0.15,-0.15,0.07,0.0,0.03,0.05,-0.12,0.0,0.29,
	0.15,0.1,-0.12,0.0,-0.15,0.05,0.16,0.12,0.1,0.12,
	0.08,0.12,-0.08,0.19,0.02,0.08,0.12,0.63,0.05,0.35,
	0.0,0.0,-0.03,-0.05,-0.03,0.03,-0.03,0.03,-0.05,-0.05,
	0.2,0.05,0.1,0.03,0.0,0.0,0.0,0.17,0.35,0.51,
	-0.1,0.08,-0.02,0.1,-0.15,0.1,0.05,0.15
];
var online_lawma = [
	0.15,0.2,-0.38,0.1,0.28,0.1,0.17,0.1,0.0,-0.23,
	-0.05,0.0,0.17,-0.02,0.08,-0.25,0.05,-0.05,0.03,0.1,
	0.2,-0.1,0.25,0.0,-0.03,-0.05,0.02,-0.08,0.37,0.32,
	0.2,0.35,-0.02,0.27,0.15,0.18,0.2,0.05,0.2,0.49,
	0.35,0.3,0.06,0.17,0.04,0.32,0.35,0.33,0.32,0.3,
	0.29,0.3,0.1,0.38,0.17,0.3,0.35,0.89,0.28,0.57,
	0.25,0.22,0.17,0.15,0.14,0.2,0.22,0.15,0.1,0.15,
	0.38,0.22,0.27,0.31,0.2,0.18,0.25,0.32,0.6,0.8,
	0.1,0.27,0.12,0.15,0.02,0.28,0.32,0.25
];

// RUN100j: only visible where it leaves the online curve
var run_matagorda = [
	0.2,0.05,0.05,-0.1,0.14,0.16,0.1,0.0,-0.31,-0.1,
	-0.31,-0.1,0.01,-0.05,-0.1,-0.36,0.0,-0.18,0.05,0.16,
	0.16,0.14,0.25,0.12,0.17,0.03,-0.06,-0.12,0.1,0.29,
	0.1,0.28,0.1,0.15,0.25,0.13,0.22,0.13,0.09,0.41,
	0.25,0.25,0.05,0.16,-0.02,0.15,0.38,0.35,0.2,0.19,
	0.22,0.27,0.17,0.3,0.2,0.17,0.2,0.61,0.25,0.47,
	0.2,0.15,0.1,0.06,0.08,0.2,0.05,0.0,0.08,0.05,
	0.24,0.1,0.16,0.2,0.12,0.05,0.1,0.1,0.68,0.2,
	0.0,0.22,0.27,0.5,0.1,0.3,0.28,0.35
];
var run_sanLuis = [
	0.25,0.05,0.18,0.07,0.2,0.24,0.14,0.08,-0.49,-0.1,
	-0.38,0.03,0.06,0.02,0.06,-0.29,0.08,-0.15,0.05,0.23,
	0.15,0.3,0.33,0.2,0.27,0.05,0.0,-0.15,0.05,0.33,
	0.18,0.32,0.05,0.2,0.32,0.2,0.28,0.15,0.07,0.47,
	0.3,0.25,0.0,0.15,0.0,0.15,0.42,0.38,0.15,0.3,
	0.33,0.24,0.2,0.35,0.25,0.05,0.3,0.73,0.3,0.62,
	0.2,0.15,0.14,0.1,0.08,0.24,0.05,-0.05,0.08,0.03,
	0.38,0.08,0.25,0.18,0.1,0.05,0.1,0.17,1.05,0.5,
	0.1,0.35,0.3,0.64,0.15,0.2,0.34,0.3
];

var obsList = [obs_brazos, obs_southPadre, obs_bobHall, obs_aransasPass, obs_portAransas, obs_matagorda,
	obs_sargent, obs_freeportHarbor, obs_freeport, obs_sanLuis, obs_pier21, obs_galvestonBay, obs_rollover,
	obs_texasPoint, obs_highIsland, obs_calcasieu, obs_freshwater, obs_eugene, obs_lawma];
var onlineList = [online_brazos, online_southPadre, online_bobHall, online_aransasPass, online_portAransas,
	online_matagorda, online_sargent, online_freeportHarbor, online_freeport, online_sanLuis, online_pier21,
	online_galvestonBay, online_rollover, online_texasPoint, online_highIsland, online_calcasieu,
	online_freshwater, online_eugene, online_lawma];
// RUN100j sits under the online line everywhere except two stations
var runList = onlineList.slice();
runList[5] = run_matagorda;
runList[9] = run_sanLuis;

// axis limits and tick labels per panel
var yMin = [-0.28, -0.25, -0.479, -0.344, -0.295, -0.41, -0.517, -0.408, -0.569, -0.568,
	-0.408, -0.44, -0.322, -0.416, -0.357, -0.394, -0.366, -0.52, -0.443];
var yMax = [0.563, 0.694, 0.588, 0.672, 0.758, 0.732, 0.783, 0.891, 0.744, 1.144,
	1.117, 1.021, 0.989, 0.977, 1.434, 0.899, 1.033, 0.691, 0.958];
var yTicks = [
	[-0.2, -0.1, 0, 0.1, 0.2, 0.3, 0.4, 0.5],
	[-0.2, 0, 0.2, 0.4, 0.6],
	[-0.4, -0.2, 0, 0.2, 0.4],
	[-0.2, 0, 0.2, 0.4, 0.6],
	[-0.2, 0, 0.2, 0.4, 0.6],
	[-0.4, -0.2, 0, 0.2, 0.4, 0.6],
	[-0.4, -0.2, 0, 0.2, 0.4, 0.6],
	[-0.4, -0.2, 0, 0.2, 0.4, 0.6, 0.8],
	[-0.4, -0.2, 0, 0.2, 0.4, 0.6],
	[-0.4, -0.2, 0, 0.2, 0.4, 0.6, 0.8, 1.0],
	[-0.4, -0.2, 0, 0.2, 0.4, 0.6, 0.8, 1.0],
	[-0.4, -0.2, 0, 0.2, 0.4, 0.6, 0.8, 1.0],
	[-0.2, 0, 0.2, 0.4, 0.6, 0.8],
	[-0.4, -0.2, 0, 0.2, 0.4, 0.6, 0.8],
	[-0.2, 0, 0.2, 0.4, 0.6, 0.8, 1.0, 1.2, 1.4],
	[-0.2, 0, 0.2, 0.4, 0.6, 0.8],
	[-0.2, 0, 0.2, 0.4, 0.6, 0.8, 1.0],
	[-0.4, -0.2, 0, 0.2, 0.4, 0.6],
	[-0.4, -0.2, 0, 0.2, 0.4, 0.6, 0.8]
];
var xTicks = [1, 2, 3, 4, 5, 6, 7, 8, 9, 10, 11, 12];
var xMin = 1, xMax = 12.97;

// sampling times (days)
var obsDays = [];
for (var i = 0; i < 121; i++) obsDays.push(Math.round((1 + i * 0.1) * 10) / 10);
var runDays = obsDays.slice(0, 88);

// Layout (figure is 5150 x 1950)
var W = 5150, H = 1950;
var colLeft = [77, 1364, 2646, 3931];
var colWidth = [1208, 1208, 1207, 1207];
var rowTop = [37, 425, 812, 1199, 1585];
var rowHeight = [329, 329, 328, 328, 329];
var FONT = 'DejaVu Sans';

function pairs(days, vals) {
	return vals.map(function(v, i) { return [days[i], v]; });
}
function fmtY(v) {
	var s = (Math.round(v * 10) / 10).toFixed(1);
	return s.charAt(0) === '-' ? '\u2212' + s.slice(1) : s;
}

var grids = [], xAxes = [], yAxes = [], titles = [], series = [];
for (var k = 0; k < stations.length; k++) {
	var r = Math.floor(k / 4), c = k % 4;
	grids.push({
		left: colLeft[c], top: rowTop[r], width: colWidth[c], height: rowHeight[r],
		show: true, borderColor: '#000', borderWidth: 1, backgroundColor: 'transparent'
	});
	titles.push({
		text: 'station:' + stations[k] + ' (datum:xGEOID)',
		left: colLeft[c] + colWidth[c] / 2, top: rowTop[r] - 25, textAlign: 'center',
		textStyle: { fontFamily: FONT, fontSize: 17, fontWeight: 'normal', color: '#000' }
	});
	xAxes.push({
		type: 'value', gridIndex: k, min: xMin, max: xMax,
		axisLine: { show: true, onZero: false, lineStyle: { color: '#000', width: 1 } },
		axisTick: { show: true, length: 5, customValues: xTicks, lineStyle: { color: '#000' } },
		axisLabel: { customValues: xTicks, margin: 8, fontFamily: FONT, fontSize: 14, color: '#000' },
		splitLine: { show: false }
	});
	yAxes.push({
		type: 'value', gridIndex: k, min: yMin[k], max: yMax[k],
		name: (c === 0 || c === 2) ? 'Elevation (m)' : '',
		nameLocation: 'middle', nameGap: 53, nameRotate: 90,
		nameTextStyle: { fontFamily: FONT, fontSize: 14, color: '#000' },
		axisLine: { show: true, onZero: false, lineStyle: { color: '#000', width: 1 } },
		axisTick: { show: true, length: 5, customValues: yTicks[k], lineStyle: { color: '#000' } },
		axisLabel: { customValues: yTicks[k], margin: 8, fontFamily: FONT, fontSize: 14, color: '#000', formatter: fmtY },
		splitLine: { show: false }
	});
	series.push({
		name: 'Obs', type: 'line', xAxisIndex: k, yAxisIndex: k,
		data: pairs(obsDays, obsList[k]), symbol: 'none', showSymbol: false, clip: true, smooth: 0.25,
		lineStyle: { color: '#ff0000', width: 2, type: [13, 3.3, 2, 3.3] }, itemStyle: { color: '#ff0000' }, z: 2
	});
	series.push({
		name: 'RUN100j', type: 'line', xAxisIndex: k, yAxisIndex: k,
		data: pairs(runDays, runList[k]), symbol: 'none', showSymbol: false, clip: true, smooth: 0.25,
		lineStyle: { color: '#008000', width: 1 }, itemStyle: { color: '#008000' }, z: 3
	});
	series.push({
		name: 'RUN100j_online', type: 'line', xAxisIndex: k, yAxisIndex: k,
		data: pairs(runDays, onlineList[k]), symbol: 'none', showSymbol: false, clip: true, smooth: 0.25,
		lineStyle: { color: '#0000ff', width: 1 }, itemStyle: { color: '#0000ff' }, z: 4
	});
}

var dom = document.getElementById('data-chart');
// fit the whole figure into the window if it is smaller than the figure
var sx = Math.min(1, window.innerWidth / W), sy = Math.min(1, window.innerHeight / H);
if (sx < 1 || sy < 1) dom.style.transform = 'scale(' + sx + ',' + sy + ')';

var myChart = echarts.init(dom, null, { renderer: 'canvas', useDirtyRect: false, width: W, height: H });

var option = {
	backgroundColor: '#ffffff',
	animation: false,
	textStyle: { fontFamily: FONT },
	title: titles,
	legend: {
		data: seriesNames,
		orient: 'vertical',
		right: W - 1277, top: 44,
		itemWidth: 28, itemHeight: 14, itemGap: 7,
		padding: [6, 8, 6, 8],
		backgroundColor: '#ffffff', borderColor: '#d0d0d0', borderWidth: 1, borderRadius: 4,
		itemStyle: { opacity: 0 },
		textStyle: { fontFamily: FONT, fontSize: 14, color: '#000' }
	},
	grid: grids,
	xAxis: xAxes,
	yAxis: yAxes,
	series: series
};

myChart.setOption(option);
</script>
</body>
</html>
